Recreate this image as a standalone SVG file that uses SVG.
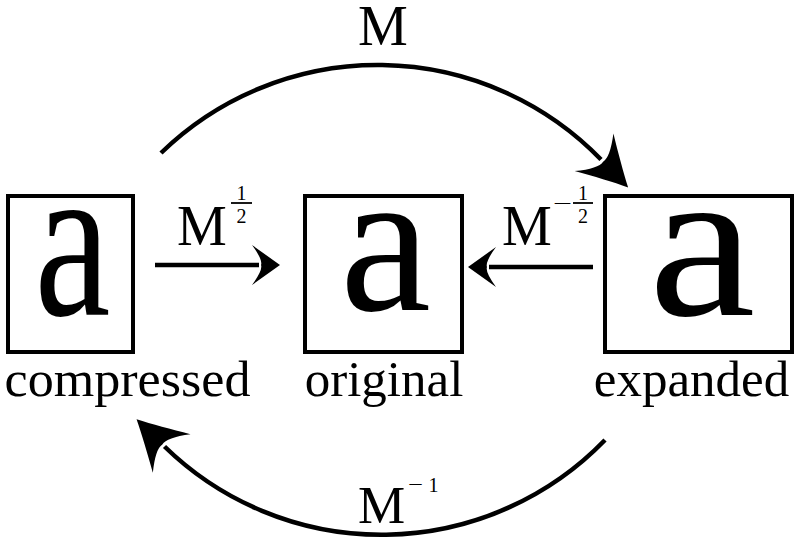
<svg xmlns="http://www.w3.org/2000/svg" width="798" height="546" viewBox="0 0 798 546">
<style>
text{font-family:"Liberation Serif","Times New Roman",serif;fill:#000}
.box{fill:#fff;stroke:#000;stroke-width:4}
.glyph{font-size:205px;text-anchor:middle}
.name{font-size:51px;text-anchor:middle}
.lab{font-size:56px}
.sup{font-size:20px;text-anchor:middle}
.edge{fill:none;stroke:#000;stroke-width:4.5}
.arc{marker-end:url(#arcHead)}
.str{marker-end:url(#lineHead)}
.bar{stroke:#000;stroke-width:1.8}
</style>
<defs>
<marker id="arcHead" markerUnits="userSpaceOnUse" orient="auto" refX="-3" refY="0" markerWidth="80" markerHeight="80" overflow="visible">
<path d="M36,0 C22,-7 4,-17 -13,-27 Q2,-8 0,0 Q2,8 -13,27 C4,17 22,7 36,0 Z" fill="#000"/>
</marker>
<marker id="lineHead" markerUnits="userSpaceOnUse" orient="auto" refX="-2" refY="0" markerWidth="60" markerHeight="60" overflow="visible">
<path d="M19,0 L-9,-20 Q2,-5 0,0 Q2,5 -9,20 Z" fill="#000"/>
</marker>
</defs>

<g id="node-compressed">
<rect class="box" x="8" y="196" width="125" height="156"/>
<text class="glyph" transform="translate(72.5,315) scale(0.835,1.087)">a</text>
<text class="name" x="127.5" y="396" textLength="246" lengthAdjust="spacingAndGlyphs">compressed</text>
</g>

<g id="node-original">
<rect class="box" x="305" y="196" width="157" height="156"/>
<text class="glyph" x="385.5" y="310">a</text>
<text class="name" x="384" y="396">original</text>
</g>

<g id="node-expanded">
<rect class="box" x="605" y="196" width="187" height="156"/>
<text class="glyph" transform="translate(702,315) scale(1.176,1.054)">a</text>
<text class="name" x="691.5" y="396">expanded</text>
</g>

<g id="connectors">
<g id="edge-M">
<path class="edge arc" d="M161,153 A311,311 0 0 1 601,159.5"/>
<text class="lab" x="383" y="45" text-anchor="middle">M</text>
</g>
<g id="edge-Minv">
<path class="edge arc" d="M605,440 A311,311 0 0 1 164.5,446.5"/>
<text class="lab" x="358" y="523" style="font-size:53px">M</text>
<text class="sup" x="415.5" y="491" textLength="15" lengthAdjust="spacingAndGlyphs">−</text>
<text class="sup" x="433.5" y="492">1</text>
</g>
<g id="edge-Mhalf">
<path class="edge str" d="M155,265 L259,265"/>
<text class="lab" x="177" y="245">M</text>
<text class="sup" x="241.5" y="200">1</text>
<line class="bar" x1="231" y1="203" x2="252" y2="203"/>
<text class="sup" x="241.5" y="223">2</text>
</g>
<g id="edge-Mneghalf">
<path class="edge str" d="M593,267 L489,267"/>
<text class="lab" x="502" y="245">M</text>
<text class="sup" x="562.5" y="210" textLength="19" lengthAdjust="spacingAndGlyphs">−</text>
<text class="sup" x="583" y="200">1</text>
<line class="bar" x1="573" y1="203" x2="593" y2="203"/>
<text class="sup" x="583" y="223">2</text>
</g>
</g>
</svg>
